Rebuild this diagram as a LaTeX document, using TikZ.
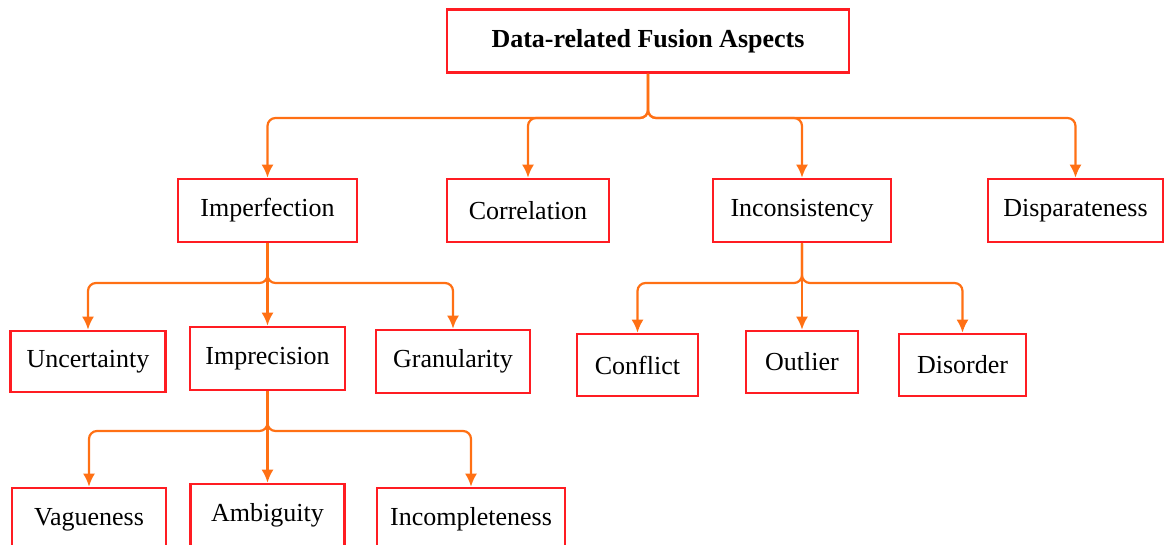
\documentclass[tikz,border=0pt]{standalone}
\usepackage{fontspec}
\setmainfont{Liberation Serif}
\usepackage{tikz}
\usetikzlibrary{arrows.meta}

\definecolor{boxred}{RGB}{255,28,34}
\definecolor{linkorange}{RGB}{255,112,20}

\tikzset{
	box/.style = {draw=boxred, line width=2.6pt, minimum height=63pt, inner sep=0pt,
		font=\fontsize{26}{30}\selectfont},
	link/.style = {draw=linkorange, line width=2.2pt, rounded corners=8pt,
		-{Latex[length=13pt,width=12pt]}}
}

\begin{document}
\begin{tikzpicture}[x=1pt,y=-1pt]
				\useasboundingbox (0,0) rectangle (1164,544);
				% root
				\node[box, minimum width=402pt, font=\fontsize{26}{30}\selectfont\bfseries] (top) at (648,41) {Data-related Fusion Aspects};
				% first level
				\node[box, minimum width=179pt] (imperf) at (267.5,210.5) {Imperfection};
				\node[box, minimum width=162pt] (correl) at (528,210.5) {Correlation};
				\node[box, minimum width=178pt] (incons) at (802,210.5) {Inconsistency};
				\node[box, minimum width=175pt] (dispar) at (1075.5,210.5) {Disparateness};
				% second level
				\node[box, minimum width=155pt, minimum height=61pt] (uncert) at (88,361.5) {Uncertainty};
				\node[box, minimum width=155pt] (imprec) at (267.5,358.5) {Imprecision};
				\node[box, minimum width=154pt] (granul) at (453,361.5) {Granularity};
				\node[box, minimum width=121pt, minimum height=62pt] (conflict) at (637.5,365) {Conflict};
				\node[box, minimum width=112pt, minimum height=62pt] (outlier) at (802,362) {Outlier};
				\node[box, minimum width=127pt, minimum height=62pt] (disorder) at (962.5,365) {Disorder};
				% third level
				\node[box, minimum width=154pt] (vague) at (89,519.5) {Vagueness};
				\node[box, minimum width=154pt] (ambig) at (267.5,515.5) {Ambiguity};
				\node[box, minimum width=188pt] (incompl) at (471,519.5) {Incompleteness};

				\coordinate (topbus) at (648,118);
				\coordinate (imbus) at (267.5,283);
				\coordinate (inbus) at (802,283);
				\coordinate (prbus) at (267.5,431);

				\foreach \c in {imperf,correl,incons,dispar}
				\draw[link] (top.south) -- (topbus) -| (\c.north);
				\foreach \c in {uncert,granul}
				\draw[link] (imperf.south) -- (imbus) -| (\c.north);
				\draw[link] (imperf.south) -- (imprec.north);
				\foreach \c in {conflict,disorder}
				\draw[link] (incons.south) -- (inbus) -| (\c.north);
				\draw[link] (incons.south) -- (outlier.north);
				\foreach \c in {vague,incompl}
				\draw[link] (imprec.south) -- (prbus) -| (\c.north);
				\draw[link] (imprec.south) -- (ambig.north);

			\end{tikzpicture}
\end{document}
